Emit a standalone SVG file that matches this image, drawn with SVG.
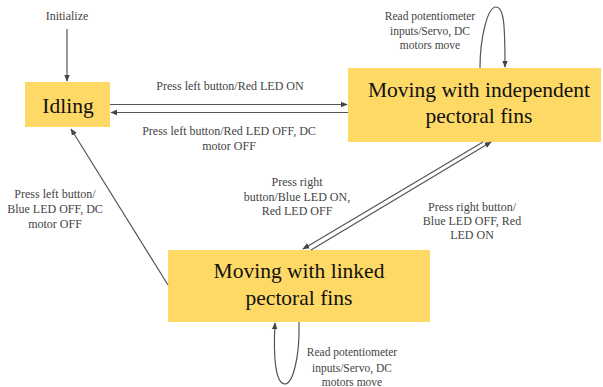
<svg xmlns="http://www.w3.org/2000/svg" width="603" height="387" viewBox="0 0 603 387">
<style>
.box{fill:#FFD966;}
.ln{stroke:#555;stroke-width:1.2;fill:none;}
</style>
<defs>
<marker id="ah" viewBox="0 0 10 10" refX="9" refY="5" markerWidth="7" markerHeight="7" markerUnits="userSpaceOnUse" orient="auto">
<path d="M0,1 L10,5 L0,9 z" fill="#444"/>
</marker>
</defs>
<rect width="603" height="387" fill="#fff"/>
<g id="idling">
<rect class="box" x="25" y="82" width="85" height="45"/>
<text font-family="Liberation Serif" font-size="21.5" text-anchor="middle" fill="#111" x="68" y="113">Idling</text>
</g>
<g id="independent">
<rect class="box" x="348" y="68" width="253" height="74"/>
<text font-family="Liberation Serif" font-size="21.5" text-anchor="middle" fill="#111" x="479" y="97">Moving with independent</text>
<text font-family="Liberation Serif" font-size="21.5" text-anchor="middle" fill="#111" x="479" y="123">pectoral fins</text>
</g>
<g id="linked">
<rect class="box" x="168" y="250" width="262" height="72"/>
<text font-family="Liberation Serif" font-size="21.5" text-anchor="middle" fill="#111" x="299" y="278">Moving with linked</text>
<text font-family="Liberation Serif" font-size="21.5" text-anchor="middle" fill="#111" x="299" y="305">pectoral fins</text>
</g>
<g id="connectors">
<path class="ln" d="M67,29 L67,81" marker-end="url(#ah)"/>
<path class="ln" d="M110,104.5 L347,104.5" marker-end="url(#ah)"/>
<path class="ln" d="M348,112.5 L111,112.5" marker-end="url(#ah)"/>
<path class="ln" d="M480,68 C480,40 487,7 496,7 C504,7 505,25 505,67" marker-end="url(#ah)"/>
<path class="ln" d="M483,142 L303,249" marker-end="url(#ah)"/>
<path class="ln" d="M311,250 L491,142" marker-end="url(#ah)"/>
<path class="ln" d="M168,285 L71,129" marker-end="url(#ah)"/>
<path class="ln" d="M299,322 C300,360 292,384 285,384 C276,384 273,360 275,323" marker-end="url(#ah)"/>
</g>
<g id="labels">
<text font-family="Liberation Serif" font-size="12" fill="#444" text-anchor="middle" x="67" y="20">Initialize</text>
<text font-family="Liberation Serif" font-size="12" fill="#444" text-anchor="middle" x="230" y="90">Press left button/Red LED ON</text>
<text font-family="Liberation Serif" font-size="12" fill="#444" text-anchor="middle" x="229" y="135">Press left button/Red LED OFF, DC</text>
<text font-family="Liberation Serif" font-size="12" fill="#444" text-anchor="middle" x="229" y="150">motor OFF</text>
<text font-family="Liberation Serif" font-size="11.5" fill="#444" text-anchor="middle" x="430" y="20">Read potentiometer</text>
<text font-family="Liberation Serif" font-size="11.5" fill="#444" text-anchor="middle" x="430" y="35">inputs/Servo, DC</text>
<text font-family="Liberation Serif" font-size="11.5" fill="#444" text-anchor="middle" x="430" y="49">motors move</text>
<text font-family="Liberation Serif" font-size="12" fill="#444" text-anchor="middle" x="297" y="186">Press right</text>
<text font-family="Liberation Serif" font-size="12" fill="#444" text-anchor="middle" x="297" y="201">button/Blue LED ON,</text>
<text font-family="Liberation Serif" font-size="12" fill="#444" text-anchor="middle" x="297" y="215">Red LED OFF</text>
<text font-family="Liberation Serif" font-size="12" fill="#444" text-anchor="middle" x="472" y="211">Press right button/</text>
<text font-family="Liberation Serif" font-size="12" fill="#444" text-anchor="middle" x="472" y="225">Blue LED OFF, Red</text>
<text font-family="Liberation Serif" font-size="12" fill="#444" text-anchor="middle" x="472" y="239">LED ON</text>
<text font-family="Liberation Serif" font-size="12" fill="#444" text-anchor="middle" x="55" y="198">Press left button/</text>
<text font-family="Liberation Serif" font-size="12" fill="#444" text-anchor="middle" x="55" y="213">Blue LED OFF, DC</text>
<text font-family="Liberation Serif" font-size="12" fill="#444" text-anchor="middle" x="55" y="228">motor OFF</text>
<text font-family="Liberation Serif" font-size="11.5" fill="#444" text-anchor="middle" x="352" y="356">Read potentiometer</text>
<text font-family="Liberation Serif" font-size="11.5" fill="#444" text-anchor="middle" x="352" y="372">inputs/Servo, DC</text>
<text font-family="Liberation Serif" font-size="11.5" fill="#444" text-anchor="middle" x="352" y="386">motors move</text>
</g>
</svg>
